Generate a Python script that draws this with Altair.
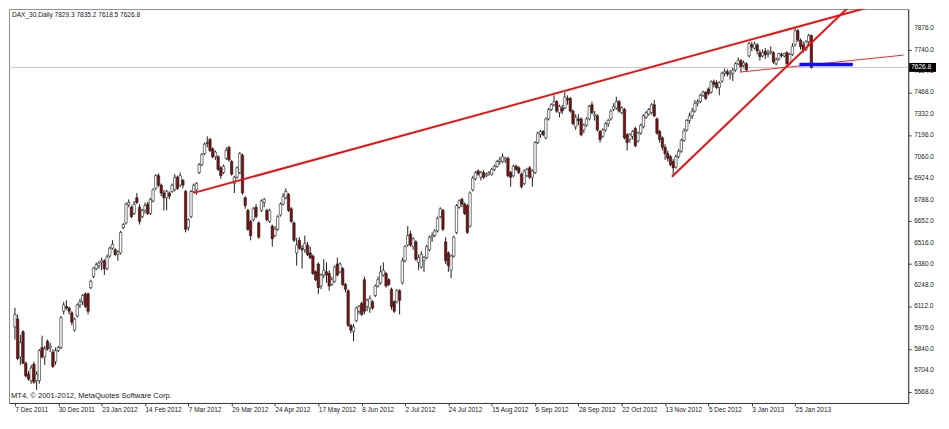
import altair as alt
import pandas as pd
import numpy as np

# ---------------- data ----------------
date_labels = ["7 Dec 2011", "30 Dec 2011", "23 Jan 2012", "14 Feb 2012", "7 Mar 2012",
               "29 Mar 2012", "24 Apr 2012", "17 May 2012", "8 Jun 2012", "2 Jul 2012",
               "24 Jul 2012", "15 Aug 2012", "6 Sep 2012", "28 Sep 2012", "22 Oct 2012",
               "13 Nov 2012", "5 Dec 2012", "3 Jan 2013", "25 Jan 2013"]
date_ticks = [0, 16, 32, 48, 64, 80, 96, 112, 128, 144, 160, 176, 192, 208, 224, 240, 256, 272, 288]

price_ticks = [7876, 7740, 7604, 7468, 7332, 7196, 7060, 6924, 6788, 6652, 6516,
               6380, 6248, 6112, 5976, 5840, 5704, 5568]

opens = [
    5980, 6030, 5790, 5950, 5750, 5680, 5640, 5745, 5640, 5640,
    5850, 5790, 5890, 5850, 5820, 5760, 5830, 5850, 6080, 6110,
    6100, 6070, 5960, 6050, 6120, 6140, 6190, 6190, 6230, 6300,
    6350, 6370, 6390, 6400, 6350, 6430, 6480, 6470, 6440, 6450,
    6610, 6640, 6755, 6740, 6700, 6800, 6740, 6680, 6720, 6760,
    6700, 6780, 6860, 6940, 6880, 6830, 6800, 6830, 6840, 6850,
    6930, 6880, 6910, 6840, 6610, 6680, 6840, 6850, 6960, 7010,
    7080, 7150, 7170, 7110, 7060, 7060, 6990, 6960, 7050, 7120,
    7030, 6890, 6930, 6960, 7070, 6800, 6720, 6650, 6660, 6740,
    6640, 6720, 6770, 6720, 6650, 6620, 6560, 6600, 6690, 6760,
    6800, 6820, 6730, 6640, 6450, 6530, 6480, 6470, 6500, 6450,
    6430, 6330, 6380, 6240, 6310, 6330, 6320, 6250, 6270, 6380,
    6330, 6350, 6250, 6210, 5990, 5950, 6020, 6080, 6130, 6280,
    6110, 6100, 6140, 6180, 6240, 6260, 6310, 6320, 6280, 6220,
    6140, 6140, 6210, 6260, 6400, 6500, 6570, 6490, 6520, 6390,
    6360, 6400, 6420, 6470, 6550, 6560, 6590, 6680, 6720, 6520,
    6450, 6340, 6430, 6580, 6740, 6790, 6760, 6750, 6620, 6850,
    6920, 6970, 6930, 6960, 6940, 6950, 6950, 6980, 7000, 7030,
    7030, 7040, 7050, 6960, 6940, 7000, 6990, 6950, 6890, 6940,
    6990, 6930, 6960, 7150, 7200, 7220, 7180, 7300, 7360, 7390,
    7410, 7340, 7370, 7370, 7430, 7430, 7350, 7250, 7300, 7300,
    7230, 7260, 7300, 7390, 7320, 7320, 7220, 7190, 7230, 7270,
    7300, 7360, 7370, 7410, 7340, 7360, 7200, 7170, 7190, 7240,
    7160, 7210, 7250, 7310, 7330, 7340, 7390, 7300, 7220, 7180,
    7120, 7080, 7060, 7030, 6995, 7060, 7095, 7165, 7230, 7290,
    7320, 7350, 7400, 7410, 7450, 7470, 7490, 7470, 7535, 7530,
    7500, 7540, 7590, 7600, 7580, 7590, 7610, 7650, 7670, 7640,
    7650, 7700, 7770, 7750, 7770, 7720, 7700, 7730, 7710, 7720,
    7720, 7650, 7680, 7710, 7700, 7720, 7650, 7710, 7770, 7860,
    7800, 7770, 7740, 7790, 7829.3]

highs = [
    6102, 6060, 5930, 5960, 5760, 5700, 5740, 5760, 5700, 5840,
    5925, 5860, 5900, 5880, 5840, 5850, 5860, 6050, 6140, 6150,
    6110, 6080, 6040, 6130, 6160, 6190, 6200, 6200, 6280, 6360,
    6390, 6400, 6420, 6410, 6440, 6490, 6530, 6480, 6470, 6590,
    6640, 6770, 6790, 6750, 6780, 6830, 6760, 6730, 6770, 6775,
    6800, 6860, 6950, 6955, 6890, 6850, 6850, 6840, 6890, 6950,
    6940, 6960, 6920, 6850, 6670, 6850, 6890, 6900, 7020, 7085,
    7150, 7190, 7180, 7120, 7100, 7070, 7000, 7010, 7120, 7130,
    7040, 6940, 7000, 7090, 7080, 6810, 6730, 6660, 6740, 6760,
    6650, 6790, 6800, 6730, 6730, 6630, 6620, 6690, 6770, 6830,
    6860, 6830, 6740, 6650, 6545, 6550, 6500, 6560, 6520, 6490,
    6440, 6340, 6390, 6320, 6410, 6390, 6340, 6300, 6370, 6420,
    6390, 6360, 6260, 6220, 6000, 6000, 6110, 6120, 6140, 6300,
    6160, 6180, 6150, 6250, 6300, 6370, 6390, 6330, 6290, 6230,
    6150, 6220, 6220, 6420, 6500, 6620, 6590, 6550, 6530, 6440,
    6460, 6430, 6500, 6560, 6580, 6600, 6680, 6740, 6730, 6550,
    6460, 6440, 6560, 6760, 6790, 6800, 6770, 6760, 6840, 6940,
    6970, 6980, 6970, 6975, 6960, 6970, 6990, 7010, 7040, 7060,
    7080, 7060, 7060, 6970, 7010, 7010, 7000, 6960, 6980, 6990,
    7000, 6980, 7160, 7220, 7230, 7230, 7310, 7370, 7400, 7450,
    7420, 7390, 7390, 7470, 7450, 7440, 7360, 7330, 7330, 7310,
    7270, 7310, 7390, 7410, 7350, 7330, 7230, 7240, 7280, 7300,
    7360, 7400, 7440, 7420, 7380, 7370, 7210, 7210, 7230, 7250,
    7220, 7270, 7330, 7350, 7370, 7400, 7420, 7310, 7230, 7190,
    7140, 7100, 7070, 7045, 7075, 7110, 7175, 7240, 7300, 7340,
    7370, 7420, 7425, 7460, 7480, 7475, 7500, 7545, 7550, 7545,
    7540, 7600, 7620, 7615, 7610, 7625, 7660, 7690, 7680, 7670,
    7660, 7790, 7790, 7790, 7780, 7740, 7740, 7750, 7740, 7760,
    7730, 7690, 7720, 7720, 7720, 7730, 7720, 7780, 7880, 7870,
    7810, 7790, 7800, 7840, 7835.2]

lows = [
    5900, 5770, 5740, 5745, 5660, 5640, 5620, 5620, 5580, 5620,
    5780, 5740, 5830, 5820, 5720, 5740, 5820, 5840, 6060, 6090,
    6060, 5990, 5950, 6040, 6100, 6120, 6100, 6060, 6220, 6290,
    6340, 6350, 6340, 6310, 6340, 6420, 6470, 6430, 6400, 6440,
    6600, 6630, 6740, 6670, 6690, 6760, 6630, 6670, 6700, 6690,
    6690, 6770, 6850, 6870, 6810, 6720, 6720, 6790, 6830, 6840,
    6850, 6870, 6860, 6580, 6590, 6670, 6830, 6820, 6950, 7000,
    7070, 7120, 7090, 7050, 7040, 6970, 6920, 6950, 7040, 7030,
    6940, 6830, 6920, 6950, 6820, 6730, 6590, 6530, 6650, 6670,
    6540, 6710, 6740, 6650, 6640, 6490, 6550, 6590, 6680, 6750,
    6790, 6710, 6640, 6520, 6370, 6470, 6350, 6450, 6430, 6410,
    6310, 6270, 6190, 6220, 6290, 6260, 6210, 6240, 6260, 6300,
    6320, 6240, 6200, 5980, 5940, 5890, 6010, 6060, 6050, 6060,
    6080, 6070, 6090, 6170, 6230, 6250, 6300, 6230, 6240, 6090,
    6070, 6130, 6060, 6250, 6390, 6490, 6490, 6470, 6400, 6340,
    6350, 6330, 6410, 6460, 6520, 6550, 6580, 6670, 6590, 6380,
    6330, 6290, 6420, 6570, 6730, 6740, 6690, 6570, 6610, 6840,
    6910, 6940, 6910, 6920, 6930, 6940, 6940, 6970, 6990, 7010,
    7020, 7020, 6930, 6870, 6930, 6970, 6950, 6860, 6880, 6930,
    6920, 6870, 6950, 7140, 7180, 7190, 7170, 7290, 7350, 7380,
    7340, 7310, 7330, 7360, 7390, 7340, 7260, 7230, 7260, 7190,
    7210, 7250, 7290, 7330, 7290, 7220, 7150, 7180, 7220, 7250,
    7290, 7350, 7360, 7340, 7330, 7170, 7100, 7150, 7170, 7120,
    7150, 7200, 7240, 7300, 7320, 7330, 7310, 7200, 7150, 7100,
    7040, 7030, 7000, 6935, 6985, 7050, 7085, 7155, 7220, 7270,
    7300, 7340, 7380, 7400, 7440, 7420, 7450, 7460, 7500, 7490,
    7450, 7530, 7570, 7570, 7550, 7540, 7600, 7640, 7600, 7620,
    7600, 7690, 7730, 7740, 7710, 7670, 7690, 7680, 7690, 7710,
    7650, 7640, 7670, 7690, 7690, 7630, 7640, 7700, 7760, 7790,
    7740, 7720, 7730, 7770, 7618.5]

closes = [
    6060, 5780, 5880, 5750, 5670, 5650, 5720, 5630, 5680, 5830,
    5790, 5840, 5840, 5860, 5730, 5830, 5850, 6040, 6120, 6100,
    6080, 6010, 6030, 6120, 6140, 6180, 6110, 6080, 6270, 6355,
    6375, 6385, 6400, 6350, 6425, 6480, 6505, 6440, 6455, 6580,
    6630, 6760, 6770, 6680, 6760, 6770, 6650, 6720, 6750, 6700,
    6790, 6850, 6940, 6880, 6830, 6800, 6840, 6810, 6880, 6930,
    6860, 6940, 6880, 6600, 6660, 6840, 6880, 6890, 7010, 7075,
    7140, 7145, 7100, 7060, 7090, 6980, 6940, 7000, 7100, 7040,
    6950, 6930, 6990, 7080, 6830, 6750, 6600, 6560, 6730, 6680,
    6550, 6780, 6790, 6660, 6720, 6540, 6600, 6680, 6760, 6810,
    6840, 6720, 6650, 6530, 6500, 6480, 6470, 6510, 6440, 6420,
    6320, 6280, 6230, 6310, 6340, 6310, 6240, 6280, 6360, 6310,
    6380, 6250, 6220, 5990, 5960, 5980, 6100, 6110, 6060, 6080,
    6150, 6160, 6100, 6240, 6280, 6330, 6340, 6240, 6250, 6110,
    6080, 6210, 6150, 6400, 6490, 6560, 6500, 6540, 6410, 6420,
    6440, 6420, 6490, 6550, 6560, 6590, 6670, 6730, 6600, 6400,
    6370, 6430, 6550, 6750, 6780, 6760, 6700, 6580, 6830, 6925,
    6960, 6950, 6960, 6930, 6950, 6960, 6980, 7000, 7030, 7040,
    7060, 7050, 6940, 6930, 7000, 6980, 6960, 6870, 6970, 6980,
    6930, 6970, 7150, 7210, 7220, 7200, 7300, 7360, 7390, 7410,
    7350, 7380, 7350, 7440, 7420, 7350, 7270, 7310, 7290, 7200,
    7260, 7300, 7380, 7340, 7330, 7230, 7170, 7230, 7270, 7290,
    7350, 7380, 7410, 7350, 7370, 7180, 7150, 7200, 7220, 7130,
    7210, 7260, 7320, 7340, 7360, 7390, 7320, 7210, 7170, 7120,
    7080, 7050, 7010, 6990, 7060, 7095, 7165, 7225, 7290, 7320,
    7350, 7400, 7410, 7450, 7470, 7430, 7460, 7535, 7520, 7500,
    7530, 7590, 7600, 7585, 7590, 7610, 7650, 7670, 7630, 7655,
    7612, 7778, 7756, 7776, 7732, 7695, 7721, 7708, 7715, 7729,
    7661, 7675, 7715, 7702, 7716, 7650, 7710, 7760, 7860, 7800,
    7760, 7740, 7790, 7829, 7626.8]

# trend lines drawn on the chart (bar index, price)
red_lines_x1 = [66.07, 242.5]
red_lines_p1 = [6831, 6933]
red_lines_x2 = [328.0, 310.0]
red_lines_p2 = [8069, 8047]
thin_line = {"x1": 267.5, "p1": 7597, "x2": 328.0, "p2": 7705}
blue_line = {"x1": 289.6, "x2": 309.3, "p": 7645}
bid_price = 7626.8

header_text = "DAX_30,Daily  7829.3 7835.2 7618.5 7626.8"
copyright_text = "MT4, \u00a9 2001-2012, MetaQuotes Software Corp."

# ---------------- layout ----------------
W, H = 904, 396
XMIN, XMAX = -0.36, 327.9
YMIN, YMAX = 5498, 7997
FONT = "Liberation Sans"
AX_COLOR = "#3c3c3c"
TXT_COLOR = "#202020"

n = min(len(opens), len(highs), len(lows), len(closes))
df = pd.DataFrame({
    "i": np.arange(n),
    "o": opens[:n], "h": highs[:n], "l": lows[:n], "c": closes[:n],
})
df["dir"] = np.where(df["c"] >= df["o"], "up", "down")

xscale = alt.Scale(domain=[XMIN, XMAX], nice=False, zero=False)
yscale = alt.Scale(domain=[YMIN, YMAX], nice=False, zero=False)

label_expr = "[" + ",".join("'%s'" % s for s in date_labels) + "][round(datum.value / 16)]"

x_axis = alt.Axis(values=date_ticks, labelExpr=label_expr, labelAlign="left",
                  labelBaseline="top", labelPadding=1, tickSize=3, title=None)
y_axis = alt.Axis(orient="right", values=price_ticks, labels=False, tickSize=3, title=None)

base = alt.Chart(df)

# first layer carries the axes
wicks = base.mark_rule(color="#1e1e1e", strokeWidth=1).encode(
    x=alt.X("i:Q", scale=xscale, axis=x_axis),
    y=alt.Y("l:Q", scale=yscale, axis=y_axis),
    y2="h:Q",
)

bodies = base.mark_bar(size=2.4, stroke="#1e1e1e", strokeWidth=0.6).encode(
    x=alt.X("i:Q"),
    y=alt.Y("o:Q"),
    y2="c:Q",
    fill=alt.Fill("dir:N", scale=alt.Scale(domain=["up", "down"], range=["#ffffff", "#7d0f0f"]),
                  legend=None),
)

bid_df = pd.DataFrame({"p": [bid_price]})
bid = alt.Chart(bid_df).mark_rule(color="#c8c8c8", strokeWidth=1).encode(
    y=alt.Y("p:Q")
)

red_df = pd.DataFrame({"x1": red_lines_x1, "p1": red_lines_p1, "x2": red_lines_x2, "p2": red_lines_p2})
red = alt.Chart(red_df).mark_rule(color="#f01010", strokeWidth=2, clip=True).encode(
    x=alt.X("x1:Q"), x2="x2:Q",
    y=alt.Y("p1:Q"), y2="p2:Q",
)

thin_df = pd.DataFrame([thin_line])
thin = alt.Chart(thin_df).mark_rule(color="#f01010", strokeWidth=0.9, clip=True).encode(
    x=alt.X("x1:Q"), x2="x2:Q",
    y=alt.Y("p1:Q"), y2="p2:Q",
)

blue_df = pd.DataFrame([blue_line])
blue = alt.Chart(blue_df).mark_rule(color="#1010ee", strokeWidth=3.5, clip=True).encode(
    x=alt.X("x1:Q"), x2="x2:Q",
    y=alt.Y("p:Q"),
)

# price-axis labels, placed through the y scale
ylab_df = pd.DataFrame({"p": price_ticks})
ylabels = alt.Chart(ylab_df).mark_text(align="left", baseline="middle", fontSize=6.5, font=FONT,
                                       color=TXT_COLOR).encode(
    x=alt.value(W + 6), y=alt.Y("p:Q"), text=alt.Text("p:Q", format=".1f"))

txt_df = pd.DataFrame({"t": [header_text]})
header = alt.Chart(txt_df).mark_text(align="left", baseline="top", fontSize=6.6, font=FONT,
                                     color=TXT_COLOR).encode(
    x=alt.value(3), y=alt.value(3), text="t:N")

cp_df = pd.DataFrame({"t": [copyright_text]})
cpr = alt.Chart(cp_df).mark_text(align="left", baseline="bottom", fontSize=7.6, font=FONT,
                                 color=TXT_COLOR).encode(
    x=alt.value(2), y=alt.value(H - 3), text="t:N")

box_df = pd.DataFrame({"p": [bid_price], "t": ["%.1f" % bid_price]})
box = alt.Chart(box_df).mark_rule(color="#000000", strokeWidth=9).encode(
    x=alt.value(W + 1), x2=alt.value(W + 28),
    y=alt.Y("p:Q"),
)
box_txt = alt.Chart(box_df).mark_text(align="left", baseline="middle", fontSize=6.6, font=FONT,
                                      color="#ffffff").encode(
    x=alt.value(W + 3), y=alt.Y("p:Q"), text="t:N")

chart = alt.layer(wicks, bid, bodies, red, thin, blue, ylabels, header, cpr, box, box_txt).properties(
    width=W, height=H, padding=0, background="#ffffff"
).configure_view(
    stroke="#8c8c8c", strokeWidth=1
).configure_axis(
    grid=False, labelOverlap=False, labelFlush=False, labelBound=False,
    labelFontSize=6.5, labelFont=FONT, labelColor=TXT_COLOR,
    domainColor=AX_COLOR, tickColor=AX_COLOR
)

chart.save("out.html", embed_options={"renderer": "svg", "actions": False})
